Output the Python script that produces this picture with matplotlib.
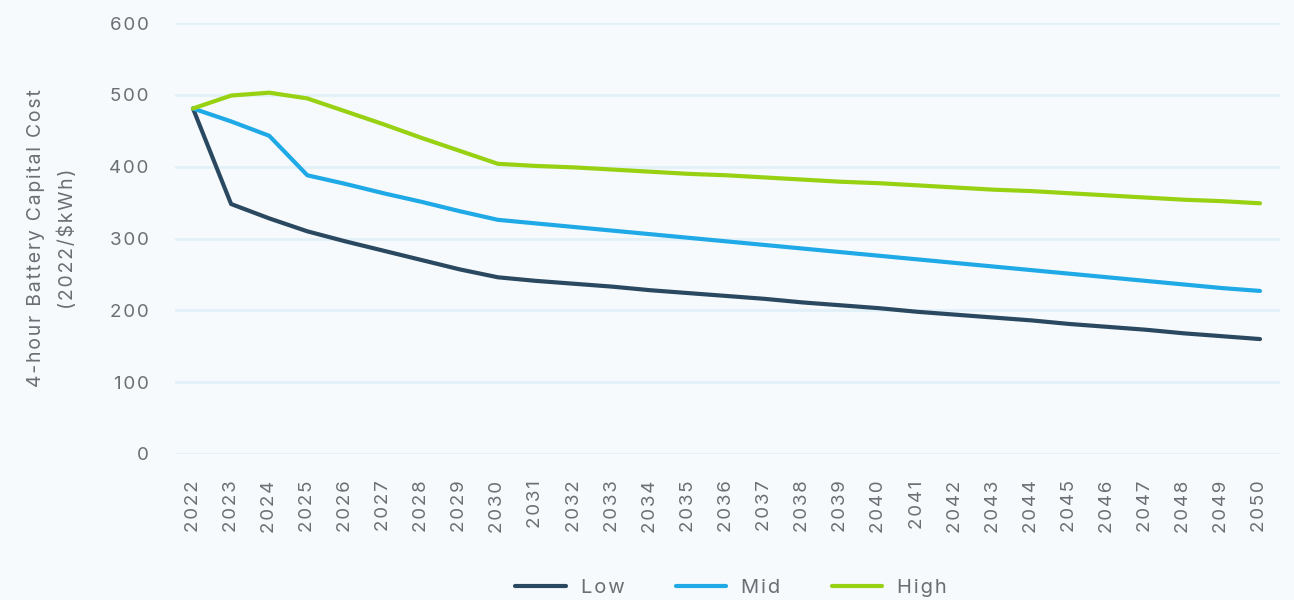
import numpy as np
import matplotlib.pyplot as plt

years = list(range(2022, 2051))
low = [481, 348, 328, 310, 296, 283, 270, 257, 246, 241, 237, 233, 228, 224, 220, 216, 211, 207,
       203, 198, 194, 190, 186, 181, 177, 173, 168, 164, 160]
mid = [481, 463, 443, 388, 376, 363, 351, 338, 326, 321, 316, 311, 306, 301, 296, 291, 286, 281,
       276, 271, 266, 261, 256, 251, 246, 241, 236, 231, 227]
high = [481, 499, 503, 495, 477, 459, 440, 422, 404, 401, 399, 396, 393, 390, 388, 385, 382, 379,
        377, 374, 371, 368, 366, 363, 360, 357, 354, 352, 349]
yticks = [0, 100, 200, 300, 400, 500, 600]

plt.rcParams['font.family'] = ['Inter', 'DejaVu Sans']
txt = '#6a6f74'
HS = '\u200a'


def spaced(s):
    # fake the letter spacing of the original
    return HS.join(s)


fig = plt.figure(figsize=(12.94, 6), dpi=100)
fig.patch.set_facecolor('#f6fafd')
ax = fig.add_axes([175/1294, 1-454/600, (1280-175)/1294, (454-23)/600])
ax.set_facecolor('none')

ax.plot(years, low, color='#2a4960', lw=3, solid_capstyle='round', solid_joinstyle='round', label=spaced('Low'))
ax.plot(years, mid, color='#1fa9e6', lw=3, solid_capstyle='round', solid_joinstyle='round', label=spaced('Mid'))
ax.plot(years, high, color='#97d111', lw=3, solid_capstyle='round', solid_joinstyle='round', label=spaced('High'))

ax.set_ylim(0, 600)
ax.set_xlim(2022 - 18/38.1, 2050 + 20/38.1)
ax.set_yticks(yticks)
ax.set_yticklabels([spaced(str(v)) for v in yticks])
ax.set_xticks(years)
ax.set_xticklabels([spaced(str(y)) for y in years], rotation=90)
ax.grid(axis='y', color='#e2f0f8', lw=2)
ax.set_axisbelow(True)
for s in ax.spines.values():
    s.set_visible(False)
ax.tick_params(axis='both', length=0, labelsize=13.5, colors=txt)
ax.tick_params(axis='x', pad=19)
ax.tick_params(axis='y', pad=19)
ax.set_ylabel(spaced('4-hour Battery Capital Cost') + '\n' + spaced('(2022/$kWh)'),
              fontsize=14, color=txt, labelpad=23, linespacing=1.85)

fig.legend(loc='lower center', bbox_to_anchor=(0.565, -0.025), ncol=3, frameon=False,
           fontsize=14.5, labelcolor=txt, handlelength=2.5, columnspacing=2.55, handletextpad=0.75)

fig.savefig('out.png', dpi=100, facecolor=fig.get_facecolor())
